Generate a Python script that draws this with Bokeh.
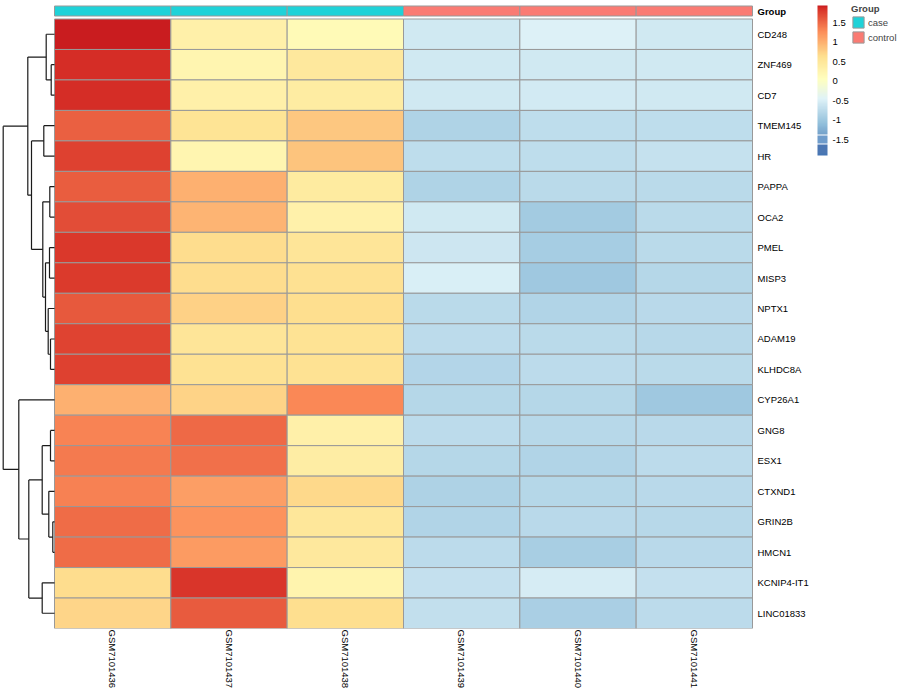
import math
from bokeh.plotting import figure
from bokeh.models import (Range1d, ColumnDataSource, LinearColorMapper, ColorBar,
                          FixedTicker, NumeralTickFormatter)
from bokeh.core.properties import value
from bokeh.transform import factor_cmap
from bokeh.embed import file_html
from bokeh.resources import INLINE

# ---------------- data ----------------
samples = ["GSM7101436", "GSM7101437", "GSM7101438", "GSM7101439", "GSM7101440", "GSM7101441"]
groups = ["case", "case", "case", "control", "control", "control"]
genes = ["CD248", "ZNF469", "CD7", "TMEM145", "HR", "PAPPA", "OCA2", "PMEL", "MISP3", "NPTX1",
         "ADAM19", "KLHDC8A", "CYP26A1", "GNG8", "ESX1", "CTXND1", "GRIN2B", "HMCN1",
         "KCNIP4-IT1", "LINC01833"]

CD248 = [1.94, 0.33, 0.14, -0.58, -0.48, -0.58]
ZNF469 = [1.87, 0.235, 0.48, -0.58, -0.58, -0.58]
CD7 = [1.87, 0.33, 0.41, -0.58, -0.56, -0.58]
TMEM145 = [1.55, 0.57, 0.815, -0.85, -0.73, -0.73]
HR = [1.755, 0.235, 0.85, -0.73, -0.73, -0.67]
PAPPA = [1.565, 1.0, 0.43, -0.85, -0.755, -0.755]
OCA2 = [1.68, 0.97, 0.31, -0.58, -0.96, -0.755]
PMEL = [1.81, 0.66, 0.53, -0.61, -0.93, -0.755]
MISP3 = [1.8, 0.65, 0.61, -0.50, -0.985, -0.80]
NPTX1 = [1.595, 0.74, 0.64, -0.755, -0.83, -0.77]
ADAM19 = [1.74, 0.54, 0.58, -0.75, -0.76, -0.79]
KLHDC8A = [1.75, 0.59, 0.59, -0.82, -0.74, -0.755]
CYP26A1 = [1.0, 0.73, 1.3, -0.80, -0.80, -0.99]
GNG8 = [1.33, 1.495, 0.33, -0.74, -0.79, -0.77]
ESX1 = [1.39, 1.45, 0.38, -0.80, -0.83, -0.74]
CTXND1 = [1.35, 1.13, 0.68, -0.87, -0.80, -0.78]
GRIN2B = [1.48, 1.22, 0.51, -0.84, -0.78, -0.79]
HMCN1 = [1.48, 1.17, 0.48, -0.75, -0.91, -0.78]
KCNIP4_IT1 = [0.65, 1.82, 0.26, -0.68, -0.53, -0.69]
LINC01833 = [0.71, 1.58, 0.64, -0.70, -0.89, -0.74]

matrix = [CD248, ZNF469, CD7, TMEM145, HR, PAPPA, OCA2, PMEL, MISP3, NPTX1, ADAM19, KLHDC8A,
          CYP26A1, GNG8, ESX1, CTXND1, GRIN2B, HMCN1, KCNIP4_IT1, LINC01833]

# row dendrogram merges (child a, child b, height); leaves are 0..19, new nodes 20..
merges = [
    (1, 2, 3.3), (0, 20, 8.3), (3, 4, 10.7), (5, 6, 4.7), (7, 8, 5.0), (10, 11, 4.0),
    (9, 25, 6.3), (24, 26, 9.0), (23, 27, 11.7), (22, 28, 23.0), (21, 29, 26.7),
    (13, 14, 4.0), (16, 17, 1.7), (15, 32, 5.7), (31, 33, 12.3), (18, 19, 12.3),
    (34, 35, 25.7), (12, 36, 35.7), (30, 37, 51.3),
]

legend_ticks = [-1.5, -1.0, -0.5, 0.0, 0.5, 1.0, 1.5]

# ---------------- style / layout ----------------
FONT = "Liberation Sans"
FS = "9.5px"
LOW, HIGH = -1.91, 1.94
smooth_stops = [(-1.38, "#739FC9"), (-1.1, "#91BFDB"), (-0.45, "#E0F3F8"), (0.05, "#FFFFBF"),
                (0.63, "#FEE090"), (1.27, "#FC8D59"), (1.86, "#D73027"), (1.94, "#C81A1E")]
block_gaps = [-1.39, -1.625, -1.86]


def _rgb(h):
    h = h.lstrip("#")
    return tuple(int(h[i:i + 2], 16) for i in (0, 2, 4))


def color_at(v):
    if any(abs(v - g) < 0.012 for g in block_gaps):
        return "#FFFFFF"
    if v < -1.38:
        if v >= -1.625:
            return "#6F9CCB"
        if v >= -1.86:
            return "#4C77B3"
        return "#4575B4"
    for (v0, c0), (v1, c1) in zip(smooth_stops[:-1], smooth_stops[1:]):
        if v <= v1:
            t = (v - v0) / (v1 - v0)
            a, b = _rgb(c0), _rgb(c1)
            return "#%02X%02X%02X" % tuple(round(a[k] + t * (b[k] - a[k])) for k in range(3))
    return smooth_stops[-1][1]


N = 256
palette = [color_at(LOW + (i + 0.5) * (HIGH - LOW) / N) for i in range(N)]
mapper = LinearColorMapper(palette=palette, low=LOW, high=HIGH)

ncol, nrow = len(samples), len(genes)
COL_PX = 698 / ncol            # pixel width of one column
ROW_PX = 609.5 / nrow          # pixel height of one row
FRAME_W, FRAME_H = 900, 628
X0 = -54 / COL_PX
X1 = X0 + FRAME_W / COL_PX
Y_TOP = -18.5 / ROW_PX
DENDRO_PX = 51.3               # pixel length of dendrogram (root -> leaves)
max_h = max(m[2] for m in merges)
h_to_x = (DENDRO_PX / max_h) / COL_PX
ANN_TOP, ANN_BOTTOM = -13.0 / ROW_PX, -3.0 / ROW_PX

p = figure(frame_width=FRAME_W, frame_height=FRAME_H, x_range=Range1d(X0, X1),
           y_range=Range1d(nrow, Y_TOP), min_border_left=0, min_border_right=0,
           min_border_top=0, min_border_bottom=72, toolbar_location=None,
           output_backend="svg", y_axis_location=None, outline_line_color=None)
p.grid.visible = False
p.background_fill_color = "white"

# heatmap cells
cx, cy, cv = [], [], []
for r, row in enumerate(matrix):
    for c, v in enumerate(row):
        cx.append(c + 0.5)
        cy.append(r + 0.5)
        cv.append(v)
src = ColumnDataSource(dict(x=cx, y=cy, v=cv))
p.rect(x="x", y="y", width=1, height=1, source=src,
       fill_color={"field": "v", "transform": mapper}, line_color="#999999", line_width=1)

# annotation bar
ann = ColumnDataSource(dict(left=list(range(ncol)), right=[i + 1 for i in range(ncol)],
                            top=[ANN_TOP] * ncol, bottom=[ANN_BOTTOM] * ncol, group=groups))
p.quad(left="left", right="right", top="top", bottom="bottom", source=ann,
       fill_color=factor_cmap("group", ["#1FD2D8", "#FA7B73"], ["case", "control"]),
       line_color="#999999", line_width=1, legend_field="group")

# gene labels + annotation name
p.text(x=[ncol] * nrow, y=[r + 0.5 for r in range(nrow)], text=genes, x_offset=5,
       text_baseline="middle", text_align="left", text_font=value(FONT),
       text_font_size=FS, text_color="black")
p.text(x=[ncol], y=[(ANN_TOP + ANN_BOTTOM) / 2], text=["Group"], x_offset=5,
       text_baseline="middle", text_align="left", text_font=value(FONT),
       text_font_size=FS, text_font_style="bold", text_color="black")

# dendrogram
pos_y = {i: i + 0.5 for i in range(nrow)}
pos_x = {i: 0.0 for i in range(nrow)}
x0s, y0s, x1s, y1s = [], [], [], []
for k, (a, b, h) in enumerate(merges):
    nid = nrow + k
    xn = -h * h_to_x
    pos_x[nid] = xn
    pos_y[nid] = (pos_y[a] + pos_y[b]) / 2
    x0s += [xn, xn, xn]
    y0s += [pos_y[a], pos_y[a], pos_y[b]]
    x1s += [xn, pos_x[a], pos_x[b]]
    y1s += [pos_y[b], pos_y[a], pos_y[b]]
p.segment(x0=x0s, y0=y0s, x1=x1s, y1=y1s, line_color="#1a1a1a", line_width=1.2)

# column labels via bottom axis
ax = p.xaxis[0]
ax.ticker = FixedTicker(ticks=[c + 0.5 for c in range(ncol)])
ax.major_label_overrides = {c + 0.5: s for c, s in enumerate(samples)}
ax.major_label_orientation = -math.pi / 2
ax.axis_line_color = None
ax.major_tick_line_color = None
ax.minor_tick_line_color = None
ax.major_tick_in = 0
ax.major_tick_out = 0
ax.major_label_standoff = 1
ax.major_label_text_font = FONT
ax.major_label_text_font_size = FS
ax.major_label_text_color = "black"

# colour bar
cb = ColorBar(color_mapper=mapper, location=(817, 473), width=10, height=150, padding=0,
              display_low=LOW, display_high=HIGH,
              ticker=FixedTicker(ticks=legend_ticks), formatter=NumeralTickFormatter(format="0.[0]"),
              major_tick_line_color=None, minor_tick_line_color=None, bar_line_color=None,
              label_standoff=5, major_label_text_font=FONT, major_label_text_font_size=FS,
              major_label_text_color="black", background_fill_alpha=0, border_line_color=None)
p.add_layout(cb)

# group legend
lg = p.legend[0]
lg.location = (851, 584)
lg.title = "Group"
lg.title_text_font = FONT
lg.title_text_font_size = FS
lg.title_text_font_style = "bold"
lg.title_standoff = 1
lg.label_text_font = FONT
lg.label_text_font_size = FS
lg.glyph_width = 14
lg.glyph_height = 14
lg.label_height = 14
lg.label_standoff = 3
lg.spacing = 1
lg.padding = 0
lg.margin = 0
lg.background_fill_alpha = 0
lg.border_line_color = None

open("out.html", "w").write(file_html(p, INLINE))
